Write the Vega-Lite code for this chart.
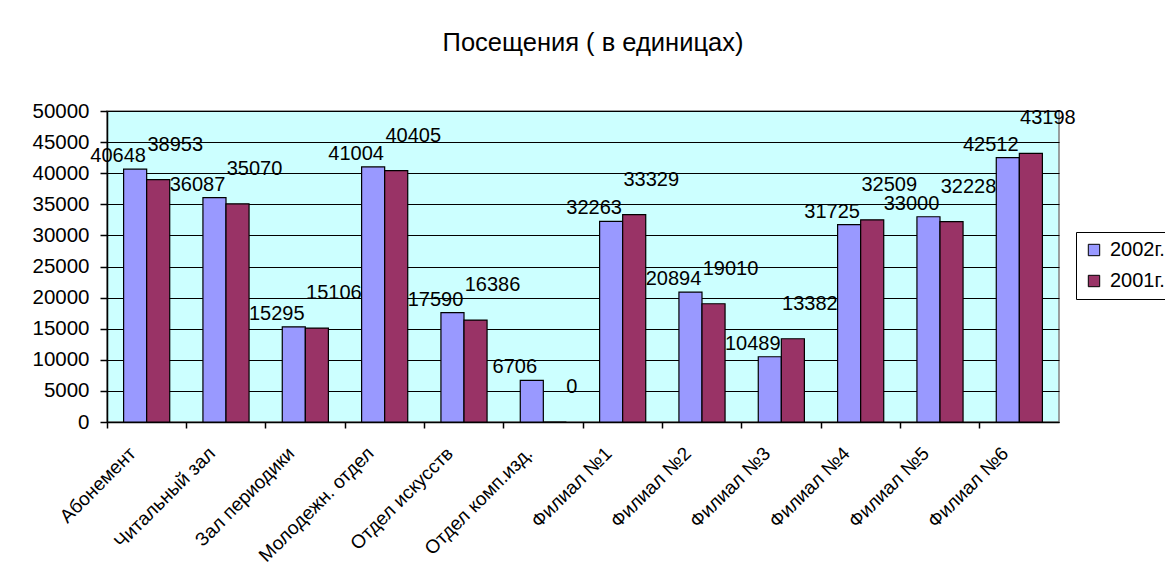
{
  "$schema": "https://vega.github.io/schema/vega-lite/v6.json",
  "width": 952,
  "height": 311,
  "autosize": {"type": "none"},
  "padding": {"left": 107, "top": 111, "right": 106, "bottom": 145},
  "background": "white",
  "config": {
    "font": "Liberation Sans",
    "view": {"fill": "#CCFFFF", "stroke": "#808080", "strokeWidth": 1.5}
  },
  "title": {
    "text": "Посещения ( в единицах)",
    "fontSize": 25.5,
    "fontWeight": "normal",
    "font": "Liberation Sans",
    "color": "black",
    "offset": 45,
    "dx": 10,
    "anchor": "middle"
  },
  "data": {
    "values": [
      {"dept": "Абонемент", "series": "2002г.", "value": 40648},
      {"dept": "Абонемент", "series": "2001г.", "value": 38953},
      {"dept": "Читальный зал", "series": "2002г.", "value": 36087},
      {"dept": "Читальный зал", "series": "2001г.", "value": 35070},
      {"dept": "Зал периодики", "series": "2002г.", "value": 15295},
      {"dept": "Зал периодики", "series": "2001г.", "value": 15106},
      {"dept": "Молодежн. отдел", "series": "2002г.", "value": 41004},
      {"dept": "Молодежн. отдел", "series": "2001г.", "value": 40405},
      {"dept": "Отдел искусств", "series": "2002г.", "value": 17590},
      {"dept": "Отдел искусств", "series": "2001г.", "value": 16386},
      {"dept": "Отдел комп.изд.", "series": "2002г.", "value": 6706},
      {"dept": "Отдел комп.изд.", "series": "2001г.", "value": 0},
      {"dept": "Филиал №1", "series": "2002г.", "value": 32263},
      {"dept": "Филиал №1", "series": "2001г.", "value": 33329},
      {"dept": "Филиал №2", "series": "2002г.", "value": 20894},
      {"dept": "Филиал №2", "series": "2001г.", "value": 19010},
      {"dept": "Филиал №3", "series": "2002г.", "value": 10489},
      {"dept": "Филиал №3", "series": "2001г.", "value": 13382},
      {"dept": "Филиал №4", "series": "2002г.", "value": 31725},
      {"dept": "Филиал №4", "series": "2001г.", "value": 32509},
      {"dept": "Филиал №5", "series": "2002г.", "value": 33000},
      {"dept": "Филиал №5", "series": "2001г.", "value": 32228},
      {"dept": "Филиал №6", "series": "2002г.", "value": 42512},
      {"dept": "Филиал №6", "series": "2001г.", "value": 43198}
    ]
  },
  "encoding": {
    "y": {
      "field": "value",
      "type": "quantitative",
      "scale": {"domain": [0, 50000], "nice": false},
      "axis": {
        "title": null,
        "values": [0, 5000, 10000, 15000, 20000, 25000, 30000, 35000, 40000, 45000, 50000],
        "format": "d",
        "grid": true,
        "gridColor": "black",
        "gridWidth": 1,
        "gridOpacity": 1,
        "domainColor": "black",
        "domainWidth": 1.5,
        "tickColor": "black",
        "tickWidth": 1.5,
        "tickSize": 7,
        "labelFontSize": 20.5,
        "labelColor": "black",
        "labelPadding": 11,
        "labelFont": "Liberation Sans"
      }
    },
    "xOffset": {
      "field": "series",
      "type": "nominal",
      "sort": ["2002г.", "2001г."],
      "scale": {"paddingOuter": 0.72, "paddingInner": 0}
    }
  },
  "layer": [
    {
      "mark": {"type": "bar", "stroke": "black", "strokeWidth": 1.2},
      "encoding": {
        "x": {
          "field": "dept",
          "type": "nominal",
          "sort": null,
          "scale": {"paddingInner": 0, "paddingOuter": 0},
          "axis": {
            "title": null,
            "orient": "bottom",
            "bandPosition": 0,
            "labels": false,
            "ticks": true,
            "tickSize": 6,
            "tickColor": "black",
            "tickWidth": 1.5,
            "domain": true,
            "domainColor": "black",
            "domainWidth": 1.5,
            "grid": false
          }
        },
        "color": {
          "field": "series",
          "type": "nominal",
          "sort": ["2002г.", "2001г."],
          "scale": {"domain": ["2002г.", "2001г."], "range": ["#9999FF", "#993366"]},
          "legend": {
            "title": null,
            "orient": "none",
            "legendX": 969,
            "legendY": 121,
            "strokeColor": "black",
            "fillColor": "white",
            "padding": 8,
            "symbolType": "square",
            "symbolSize": 130,
            "symbolStrokeColor": "black",
            "symbolStrokeWidth": 1,
            "symbolOpacity": 1,
            "labelFontSize": 20,
            "labelFont": "Liberation Sans",
            "labelColor": "black",
            "labelOffset": 6,
            "rowPadding": 11
          }
        }
      }
    },
    {
      "transform": [{"filter": "datum.series === '2002г.'"}],
      "mark": {"type": "text", "fontSize": 20, "color": "black", "baseline": "middle", "dx": -17, "dy": -13},
      "encoding": {
        "x": {
          "field": "dept",
          "type": "nominal",
          "sort": null,
          "axis": {
            "title": null,
            "orient": "bottom",
            "ticks": false,
            "domain": false,
            "grid": false,
            "labelAngle": -45,
            "labelAlign": "right",
            "labelBaseline": "middle",
            "labelFontSize": 19,
            "labelFont": "Liberation Sans",
            "labelColor": "black",
            "labelPadding": 28,
            "labelOffset": -14
          }
        },
        "text": {"field": "value", "type": "quantitative", "format": "d"}
      }
    },
    {
      "transform": [{"filter": "datum.series === '2001г.'"}],
      "mark": {"type": "text", "fontSize": 20, "color": "black", "baseline": "middle", "dx": 17, "dy": -35},
      "encoding": {
        "x": {"field": "dept", "type": "nominal", "sort": null, "axis": null},
        "text": {"field": "value", "type": "quantitative", "format": "d"}
      }
    }
  ],
  "resolve": {"axis": {"x": "independent"}}
}
